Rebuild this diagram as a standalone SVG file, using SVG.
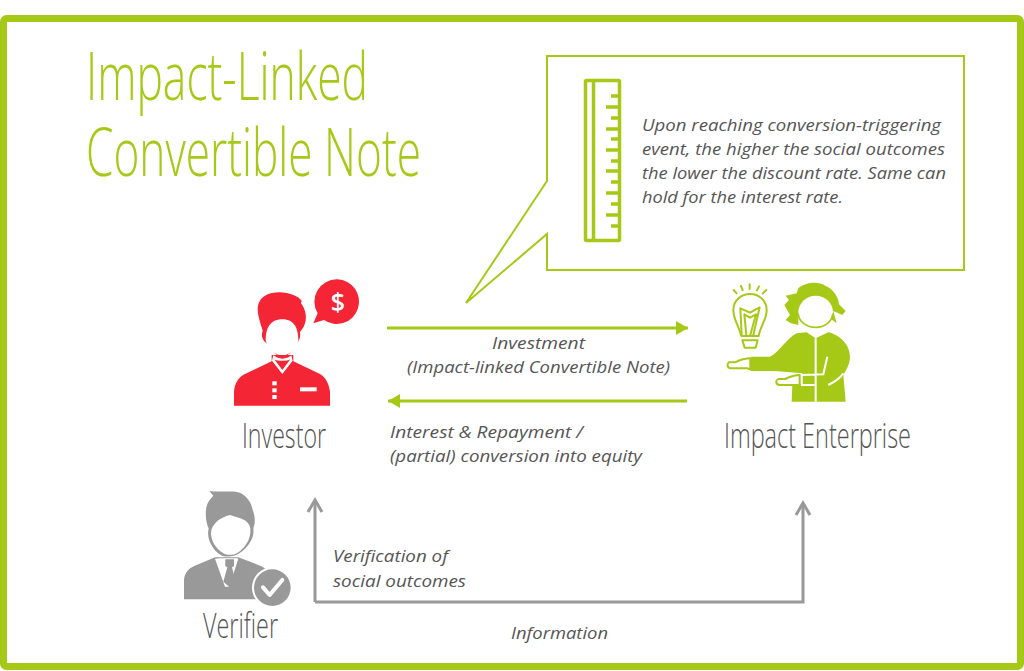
<svg xmlns="http://www.w3.org/2000/svg" width="1024" height="671" viewBox="0 0 1024 671">
<style>
.t{font-family:"Open Sans","Noto Sans","Liberation Sans",sans-serif;font-style:italic;font-size:16.5px;fill:#555}
.h{font-family:"Open Sans","Noto Sans","Liberation Sans",sans-serif;font-weight:300;fill:#555;font-size:34px}
.ti{font-family:"Open Sans","Noto Sans","Liberation Sans",sans-serif;font-weight:300;fill:#a5c916;font-size:66px}
.g{fill:#a5c916}.r{fill:#f42534}.y{fill:#999}.w{fill:#fff}
.ol{fill:none;stroke:#a5c916;stroke-width:6;stroke-linecap:round;stroke-linejoin:round}
.c{fill:none;stroke-width:3}
</style>
<defs>
<marker id="ag" markerUnits="userSpaceOnUse" markerWidth="20" markerHeight="20" refX="15" refY="10" orient="auto"><path d="M3 3L15 10L3 17Z" fill="#a5c916"/></marker>
<marker id="ay" markerUnits="userSpaceOnUse" markerWidth="20" markerHeight="20" refX="15" refY="10" orient="auto"><path d="M3 3L15 10L3 17" fill="none" stroke="#999" stroke-width="3"/></marker>
</defs>
<rect width="1024" height="671" fill="#fff"/>
<rect x="3.500" y="18.500" width="1017" height="648" rx="3" fill="none" stroke="#a5c916" stroke-width="7"/>
<g id="title">
<text class="ti" x="86" y="100" textLength="282" lengthAdjust="spacingAndGlyphs">Impact-Linked</text>
<text class="ti" x="86" y="176" textLength="335" lengthAdjust="spacingAndGlyphs">Convertible Note</text>
</g>
<g id="callout">
<path d="M547 56H964V270H547V234L466 303L547 181Z" fill="#fff" stroke="#a5c916" stroke-width="2"/>
<g fill="none" stroke="#a5c916" stroke-width="3.500">
<rect x="585.500" y="80.500" width="34" height="160" rx="1"/>
<path d="M593.500 81V240" />
</g>
<path d="M619 96H611M619 107H606M619 118H611M619 129H606M619 139H611M619 150H606M619 161H611M619 171H606M619 182H611M619 193H606M619 204H611M619 215H606M619 226H611" fill="none" stroke="#a5c916" stroke-width="3.500"/>
<text class="t" x="642" y="131" textLength="299" lengthAdjust="spacingAndGlyphs">Upon reaching conversion-triggering</text>
<text class="t" x="642" y="155" textLength="303" lengthAdjust="spacingAndGlyphs">event, the higher the social outcomes</text>
<text class="t" x="642" y="179" textLength="304" lengthAdjust="spacingAndGlyphs">the lower the discount rate. Same can</text>
<text class="t" x="642" y="203" textLength="201" lengthAdjust="spacingAndGlyphs">hold for the interest rate.</text>
</g>
<g id="investor">
<g transform="translate(220 270) scale(.3333)">
<path class="r" d="M352 28A67 67 0 1 1 312 150L280 160L293 130A67 67 0 0 1 352 28Z"/>
<path class="r" d="M128 182C118 150 108 120 116 100C126 76 150 66 180 67C205 68 235 78 245 92L243 100C255 115 262 140 255 160C252 172 245 180 240 186C243 205 235 215 228 222C220 240 205 258 188 263C170 260 155 240 147 224C135 218 120 205 128 182Z"/>
<path class="w" d="M137 210C137 175 150 148 187 148C224 148 234 175 235 210C232 232 210 256 187 257C163 256 140 232 137 210Z"/>
<path class="r" d="M42 407V365C44 340 55 322 75 312L155 274V255H220V274L300 312C318 322 328 345 330 365V407Z"/>
<path class="w" d="M160 256C168 262 178 266 187 266C197 266 208 262 214 256L218 272L187 312L156 272Z"/>
<path class="r" d="M163 268C172 274 202 274 211 268L187 300Z"/>
<rect class="w" x="157" y="334" width="13" height="12"/><rect class="w" x="157" y="355" width="13" height="12"/><rect class="w" x="157" y="375" width="13" height="12"/>
<rect class="w" x="240" y="352" width="50" height="12"/>
</g>
<text x="338" y="311" text-anchor="middle" font-family="'Open Sans',sans-serif" font-weight="600" font-size="25" fill="#fff">$</text>
<text class="h" x="242" y="448" textLength="84" lengthAdjust="spacingAndGlyphs">Investor</text>
</g>
<g id="enterprise">
<g transform="translate(715 275) scale(.3333)">
<path class="ol" d="M79 183C72 152 55 135 55 105C55 75 80 57 105 57C135 57 155 80 155 105C155 135 136 152 131 183Z"/>
<path class="ol" d="M80 180L76 100L105 113L134 97L115 180M94 180L88 118L105 128L123 118L106 180"/>
<path class="ol" d="M82 196H128L122 218H89Z"/>
<path class="ol" d="M56 45L65 55M78 33L83 45M104 28V42M132 34L126 46M154 45L143 56"/>
<path class="g" d="M250 40C270 22 310 18 330 32C355 40 372 70 372 88L392 108L382 120L355 108L365 145L345 130C335 120 340 100 320 75C300 60 280 65 270 78C250 100 250 120 250 150L228 145L212 135L225 120L208 90L222 75L212 62L245 55Z"/>
<path class="w" d="M250 110C250 85 275 62 302 62C330 62 354 85 354 110C354 140 330 158 302 158C275 158 250 140 250 110Z"/>
<path class="ol" style="stroke-width:5" d="M250 118C252 140 275 157 302 157C330 157 350 140 353 118"/>
<path class="g" d="M230 380L232 328H262V295L180 288H108V245H165C190 235 215 190 245 175L275 172L302 190L340 172C375 180 405 210 405 245C405 270 390 290 385 300L392 380Z"/>
<path fill="none" stroke="#fff" stroke-width="6" d="M302 190V380M337 245L325 298L260 300V330H298M340 330C360 320 378 305 385 295"/>
<path fill="#fff" stroke="#a5c916" stroke-width="6" stroke-linejoin="round" d="M106 250C90 250 75 255 60 262H42C35 268 36 276 45 280H98L106 284Z"/>
<path fill="#fff" stroke="#a5c916" stroke-width="6" stroke-linejoin="round" d="M254 300C240 300 225 305 210 312H190C180 318 182 326 192 330H246L254 332Z"/>
</g>
<text class="h" x="724" y="448" textLength="187" lengthAdjust="spacingAndGlyphs">Impact Enterprise</text>
</g>
<g id="verifier">
<g transform="translate(170 480) scale(.3333)">
<path class="y" d="M118 33C150 38 190 30 210 38C232 48 245 70 248 90C258 115 255 135 248 150H118C105 125 105 90 112 72C118 60 125 52 130 47Z"/>
<path class="y" d="M42 358V300C44 275 60 262 80 255L135 232H205L265 255C285 262 300 275 300 300V358Z"/>
<path class="w" d="M135 236L153 235H200L205 236L178 320L165 320Z"/>
<path class="y" d="M166 238H192V258L186 262L197 305L179 322L160 305L172 262L166 258Z"/>
<path class="y" d="M115 150C110 180 130 212 152 225C165 232 190 232 208 220C232 205 255 175 250 145L240 125H125Z"/>
<path class="w" d="M124 150C130 130 150 112 180 105C205 115 235 115 241 145C245 180 220 210 200 220C190 226 170 226 160 220C140 208 118 180 124 150Z"/>
<circle cx="307" cy="323" r="61" fill="#fff"/>
<circle class="y" cx="307" cy="323" r="55"/>
<path d="M279 322L299 345L337 300" fill="none" stroke="#fff" stroke-width="12" stroke-linecap="round" stroke-linejoin="round"/>
</g>
<text class="h" x="203" y="638" textLength="75" lengthAdjust="spacingAndGlyphs">Verifier</text>
</g>
<g id="connectors">
<path class="c" stroke="#a5c916" marker-end="url(#ag)" d="M387 328H688"/>
<path class="c" stroke="#a5c916" marker-end="url(#ag)" d="M687 401H388"/>
<path class="c" stroke="#999" marker-end="url(#ay)" d="M315 602H803V503"/>
<path class="c" stroke="#999" marker-end="url(#ay)" d="M315 602V500"/>
</g>
<g id="labels">
<text class="t" x="492" y="349" textLength="93" lengthAdjust="spacingAndGlyphs">Investment</text>
<text class="t" x="407" y="373" textLength="263" lengthAdjust="spacingAndGlyphs">(Impact-linked Convertible Note)</text>
<text class="t" x="390" y="438" textLength="193" lengthAdjust="spacingAndGlyphs">Interest &amp; Repayment /</text>
<text class="t" x="390" y="462" textLength="252" lengthAdjust="spacingAndGlyphs">(partial) conversion into equity</text>
<text class="t" x="333" y="562" textLength="115" lengthAdjust="spacingAndGlyphs">Verification of</text>
<text class="t" x="333" y="587" textLength="133" lengthAdjust="spacingAndGlyphs">social outcomes</text>
<text class="t" x="511" y="639" textLength="97" lengthAdjust="spacingAndGlyphs">Information</text>
</g>
</svg>
